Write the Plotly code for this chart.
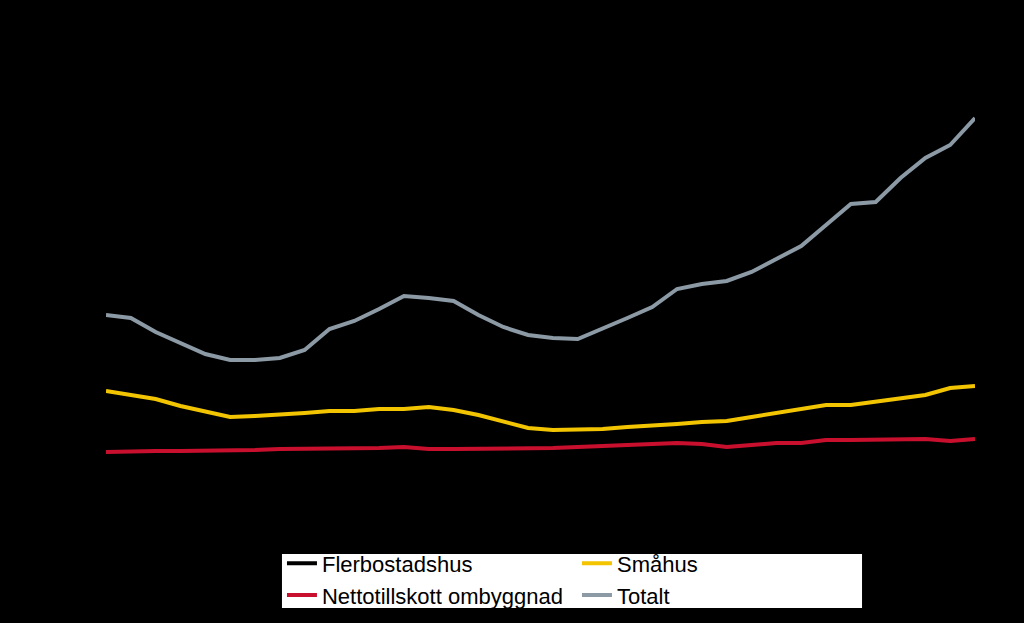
import plotly.graph_objects as go

years = list(range(1985, 2021))

totalt = [16500, 16200, 14800, 13700, 12600, 12000, 12000, 12200, 13000, 15100,
          15900, 17100, 18400, 18200, 17900, 16500, 15300, 14500, 14200, 14100,
          15100, 16200, 17300, 19100, 19600, 19900, 20800, 22100, 23400, 25500,
          27600, 27800, 30200, 32200, 33500, 36200]

smahus = [8900, 8500, 8100, 7400, 6900, 6300, 6400, 6500, 6700, 6900,
          6900, 7100, 7100, 7300, 7000, 6500, 5900, 5200, 5000, 5000,
          5100, 5300, 5400, 5600, 5800, 5900, 6300, 6700, 7000, 7500,
          7500, 7800, 8200, 8500, 9200, 9400]

netto = [2800, 2900, 2900, 2900, 2900, 3000, 3000, 3100, 3100, 3200,
         3200, 3200, 3300, 3100, 3100, 3100, 3200, 3200, 3200, 3300,
         3400, 3600, 3700, 3700, 3600, 3300, 3500, 3700, 3700, 4000,
         4000, 4000, 4100, 4100, 3900, 4100]

flerbostadshus = [4800, 4800, 3800, 3400, 2800, 2700, 2600, 2600, 3200, 5000,
                  5800, 6800, 8000, 7800, 7800, 6900, 6200, 6100, 6000, 5800,
                  6600, 7300, 8200, 9800, 10200, 10700, 11000, 11700, 12700, 14000,
                  16100, 16000, 17900, 19600, 20400, 22700]

fig = go.Figure()
fig.add_trace(go.Scatter(x=years, y=flerbostadshus, name="Flerbostadshus", mode="lines",
                         line=dict(color="#000000", width=4)))
fig.add_trace(go.Scatter(x=years, y=smahus, name="Småhus", mode="lines",
                         line=dict(color="#F2C500", width=4)))
fig.add_trace(go.Scatter(x=years, y=netto, name="Nettotillskott ombyggnad", mode="lines",
                         line=dict(color="#C8102E", width=4)))
fig.add_trace(go.Scatter(x=years, y=totalt, name="Totalt", mode="lines",
                         line=dict(color="#8C9AA5", width=4)))

# white legend panel
fig.add_shape(type="rect", xref="paper", yref="y", x0=0.2025, x1=0.870,
              y0=-12800, y1=-7400, fillcolor="#FFFFFF", line=dict(width=0), layer="below")

fig.update_layout(
    width=1024, height=623,
    paper_bgcolor="#000000", plot_bgcolor="#000000",
    margin=dict(l=106, r=49, t=40, b=0),
    font=dict(family="Liberation Sans, Arial, sans-serif", size=22, color="#000000"),
    xaxis=dict(range=[years[0], years[-1]], showgrid=False, zeroline=False,
               showticklabels=False, showline=False, ticks=""),
    yaxis=dict(range=[-14300, 44000], showgrid=False, zeroline=False,
               showticklabels=False, showline=False, ticks=""),
    legend=dict(orientation="h", x=0.2025, xanchor="left", y=0.138, yanchor="top",
                bgcolor="rgba(0,0,0,0)", borderwidth=0, entrywidth=250, entrywidthmode="pixels",
                font=dict(size=22, color="#000000"), tracegroupgap=0),
    showlegend=True,
)

fig.write_html("out.html", config={"displayModeBar": False},
               post_script="document.body.style.margin='0';document.body.style.overflow='hidden';document.body.style.background='#000';")
